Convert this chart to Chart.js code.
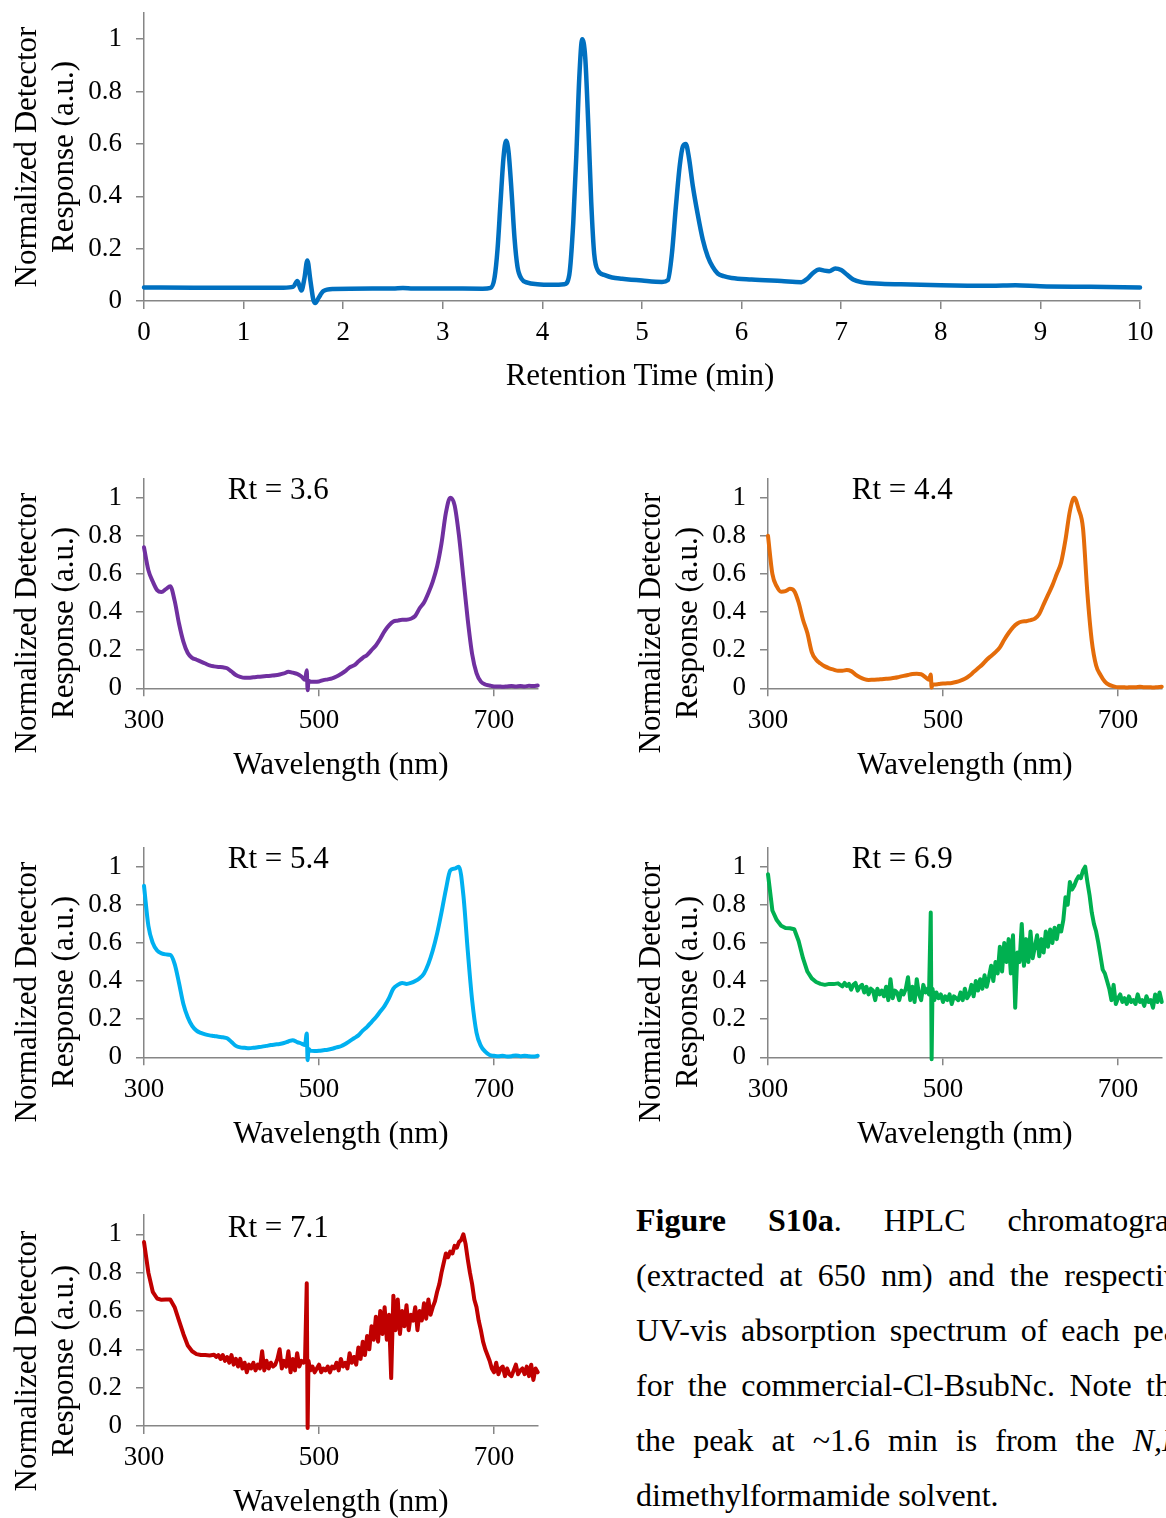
<!DOCTYPE html>
<html>
<head>
<meta charset="utf-8">
<script src="https://cdn.jsdelivr.net/npm/chart.js@4.4.0/dist/chart.umd.min.js"></script>
<style>
  html, body { margin: 0; padding: 0; background: #fff; overflow: hidden; }
  #page { position: relative; width: 1166px; height: 1518px; overflow: hidden;
          font-family: 'Liberation Serif', 'Times New Roman', serif; color: #000; }
  #page canvas { position: absolute; }
  .lbl { position: absolute; white-space: nowrap; font-size: 31px; line-height: 1;
         transform: translate(-50%, -50%); }
  .rot { transform: translate(-50%, -50%) rotate(-90deg); }
  .cap { position: absolute; left: 636px; width: 558px; font-size: 32px; line-height: 55px;
         height: 55px; text-align: justify; text-align-last: justify; white-space: normal; }
  .cap.last { text-align-last: left; }
</style>
</head>
<body>
<div id="page">
  <div class="cap" style="top:1193px"><b>Figure S10a</b>. HPLC chromatogram</div>
  <div class="cap" style="top:1248px">(extracted at 650 nm) and the respective</div>
  <div class="cap" style="top:1303px">UV-vis absorption spectrum of each peak</div>
  <div class="cap" style="top:1358px">for the commercial-Cl-BsubNc. Note that</div>
  <div class="cap" style="top:1413px">the peak at ~1.6 min is from the <i>N,N</i>-</div>
  <div class="cap last" style="top:1468px">dimethylformamide solvent.</div>
</div>
<script>
// HPLC chromatogram (extracted at 650 nm)
const retentionTime = [0, 0.5, 1.0, 1.4, 1.5, 1.54, 1.58, 1.61, 1.64, 1.67, 1.70, 1.72, 1.75, 1.8, 1.9,
  2.5, 2.6, 2.7, 3.0, 3.4, 3.48, 3.52, 3.55, 3.58, 3.61, 3.635, 3.66, 3.69, 3.72, 3.75, 3.79, 3.85,
  3.95, 4.1, 4.22, 4.27, 4.31, 4.34, 4.37, 4.40, 4.43, 4.46, 4.49, 4.52, 4.56, 4.62, 4.7, 4.8, 5.0,
  5.2, 5.26, 5.30, 5.34, 5.38, 5.41, 5.44, 5.47, 5.51, 5.56, 5.61, 5.66, 5.71, 5.76, 5.82, 5.9, 6.1,
  6.4, 6.6, 6.66, 6.72, 6.78, 6.83, 6.88, 6.94, 7.0, 7.06, 7.12, 7.2, 7.4, 7.7, 8.0, 8.5, 8.75, 9.0,
  9.5, 10.0];
const detectorResponse = [0.052, 0.051, 0.051, 0.051, 0.055, 0.076, 0.040, 0.085, 0.155, 0.080, 0.005, -0.008, 0.010, 0.038, 0.046,
  0.048, 0.050, 0.048, 0.048, 0.047, 0.05, 0.09, 0.20, 0.38, 0.55, 0.612, 0.57, 0.42, 0.24, 0.13, 0.085, 0.07,
  0.064, 0.062, 0.064, 0.10, 0.30, 0.55, 0.85, 1.0, 0.93, 0.68, 0.38, 0.18, 0.115, 0.10, 0.09, 0.085, 0.078,
  0.073, 0.08, 0.18, 0.36, 0.52, 0.59, 0.60, 0.55, 0.44, 0.33, 0.235, 0.17, 0.13, 0.105, 0.095, 0.088, 0.082,
  0.076, 0.072, 0.085, 0.108, 0.12, 0.116, 0.114, 0.124, 0.118, 0.10, 0.082, 0.072, 0.066, 0.063, 0.06, 0.058, 0.06, 0.056,
  0.054, 0.052];
const timeTicks = [0, 1, 2, 3, 4, 5, 6, 7, 8, 9, 10];

// UV-vis spectra of the clean peaks (nm)
const wavelength = [300, 305, 310, 315, 320, 325, 330, 335, 340, 345,
  350, 355, 360, 365, 370, 375, 380, 385, 390, 395,
  400, 405, 410, 415, 420, 425, 430, 435, 440, 445,
  450, 455, 460, 465, 470, 475, 480, 484, 486, 487,
  488, 490, 495, 500, 505, 510, 515, 520, 525, 530,
  535, 540, 545, 550, 555, 560, 565, 570, 575, 580,
  585, 590, 595, 600, 605, 610, 615, 620, 625, 630,
  635, 640, 645, 650, 655, 660, 665, 670, 675, 680,
  685, 690, 695, 700, 705, 710, 715, 720, 725, 730,
  735, 740, 745, 750];
const absRt36 = [0.74, 0.62, 0.56, 0.515, 0.505, 0.52, 0.535, 0.46, 0.34, 0.245,
  0.185, 0.16, 0.15, 0.14, 0.13, 0.12, 0.115, 0.112, 0.11, 0.105,
  0.088, 0.07, 0.06, 0.055, 0.055, 0.058, 0.06, 0.062, 0.064, 0.066,
  0.068, 0.072, 0.078, 0.087, 0.082, 0.076, 0.062, 0.045, 0.095, -0.01,
  0.04, 0.035, 0.034, 0.036, 0.043, 0.047, 0.052, 0.062, 0.075, 0.09,
  0.11, 0.12, 0.14, 0.16, 0.175, 0.2, 0.225, 0.26, 0.30, 0.33,
  0.35, 0.355, 0.36, 0.36, 0.365, 0.38, 0.42, 0.45, 0.50, 0.56,
  0.64, 0.76, 0.92, 1.0, 0.96, 0.80, 0.58, 0.36, 0.18, 0.08,
  0.035, 0.02, 0.015, 0.01, 0.01, 0.008, 0.01, 0.012, 0.01, 0.012,
  0.01, 0.013, 0.012, 0.015];
const absRt44 = [0.80, 0.60, 0.535, 0.507, 0.51, 0.522, 0.51, 0.45, 0.36, 0.29,
  0.19, 0.15, 0.13, 0.115, 0.105, 0.098, 0.092, 0.092, 0.096, 0.09,
  0.072, 0.058, 0.048, 0.044, 0.045, 0.046, 0.048, 0.05, 0.052, 0.055,
  0.06, 0.065, 0.07, 0.075, 0.076, 0.074, 0.058, 0.045, 0.072, 0.004,
  0.02, 0.02, 0.022, 0.025, 0.026, 0.028, 0.033, 0.04, 0.05, 0.065,
  0.085, 0.105, 0.125, 0.15, 0.17, 0.19, 0.215, 0.255, 0.29, 0.32,
  0.34, 0.35, 0.352, 0.358, 0.365, 0.39, 0.44, 0.49, 0.54, 0.60,
  0.66, 0.78, 0.93, 1.0, 0.94, 0.84, 0.50, 0.25, 0.12, 0.07,
  0.035, 0.018, 0.01, 0.005, 0.006, 0.004, 0.006, 0.005, 0.008, 0.006,
  0.006, 0.004, 0.006, 0.008];
const absRt54 = [0.90, 0.69, 0.60, 0.56, 0.545, 0.54, 0.537, 0.49, 0.39, 0.28,
  0.21, 0.165, 0.14, 0.128, 0.12, 0.115, 0.112, 0.108, 0.105, 0.1,
  0.08, 0.06, 0.052, 0.05, 0.048, 0.05, 0.053, 0.056, 0.06, 0.064,
  0.067, 0.07, 0.075, 0.083, 0.09, 0.08, 0.072, 0.065, 0.125, -0.015,
  0.045, 0.035, 0.033, 0.034, 0.037, 0.04, 0.045, 0.052, 0.058, 0.07,
  0.085, 0.1, 0.115, 0.14, 0.16, 0.185, 0.21, 0.24, 0.27, 0.31,
  0.36, 0.38, 0.39, 0.385, 0.39, 0.40, 0.415, 0.44, 0.49, 0.56,
  0.65, 0.76, 0.88, 0.98, 0.99, 1.0, 0.85, 0.56, 0.30, 0.13,
  0.06, 0.03, 0.012, 0.008, 0.005, 0.008, 0.004, 0.006, 0.01, 0.006,
  0.008, 0.005, 0.004, 0.008];

// the two weak late peaks are noisy, read on a finer wavelength grid
const noisyWavelength = [300, 305, 310, 315, 320, 325, 330, 335, 340, 345,
  350, 355, 360, 365, 370, 375, 380,
  382.5, 385, 387.5, 390, 392.5, 395, 397.5, 400, 402.5, 405,
  407.5, 410, 412.5, 415, 417.5, 420, 422.5, 425, 427.5, 430,
  432.5, 435, 437.5, 440, 442.5, 445, 447.5, 450, 452.5, 455,
  457.5, 460, 462.5, 465, 467.5, 470, 472.5, 475, 477.5, 480,
  482.5, 484, 486, 487, 488,
  490, 492.5, 495, 497.5, 500, 502.5, 505, 507.5, 510, 512.5,
  515, 517.5, 520, 522.5, 525, 527.5, 530, 532.5, 535, 537.5,
  540, 542.5, 545, 547.5, 550, 552.5, 555, 557.5, 560, 562.5,
  565, 567.5, 570, 572.5, 575, 577.5, 580, 582.5, 585, 587.5,
  590, 592.5, 595, 597.5, 600, 602.5, 605, 607.5, 610, 612.5,
  615, 617.5, 620, 622.5, 625, 627.5, 630, 632.5, 635, 637.5,
  640, 642.5, 645, 647.5, 650, 652.5, 655, 657.5, 660, 662.5,
  665, 667.5, 670, 672.5, 675, 677.5, 680, 682.5, 685, 687.5,
  690, 692.5, 695, 697.5, 700, 702.5, 705, 707.5, 710, 712.5,
  715, 717.5, 720, 722.5, 725, 727.5, 730, 732.5, 735, 737.5,
  740, 742.5, 745, 747.5, 750];
const absRt69 = [0.96, 0.77, 0.72, 0.69, 0.678, 0.677, 0.672, 0.61, 0.52, 0.45,
  0.414, 0.395, 0.385, 0.38, 0.385, 0.384, 0.388,
  0.38, 0.372, 0.39, 0.375, 0.385, 0.355, 0.38, 0.39, 0.35, 0.37,
  0.38, 0.34, 0.37, 0.33, 0.36, 0.35, 0.3, 0.36, 0.33, 0.35,
  0.32, 0.37, 0.3, 0.41, 0.31, 0.35, 0.34, 0.3, 0.35, 0.33,
  0.36, 0.42, 0.3, 0.37, 0.29, 0.41, 0.33, 0.3, 0.38, 0.34,
  0.36, 0.33, 0.76, -0.01, 0.36,
  0.3, 0.34, 0.31, 0.33, 0.29, 0.32, 0.3, 0.33, 0.28, 0.32,
  0.31, 0.3, 0.34, 0.3, 0.36, 0.31, 0.33, 0.38, 0.32, 0.4,
  0.35, 0.41, 0.36, 0.43, 0.37, 0.42, 0.48, 0.4, 0.5, 0.44,
  0.58, 0.45, 0.6, 0.5, 0.62, 0.44, 0.64, 0.26, 0.55, 0.5,
  0.7, 0.48, 0.62, 0.5, 0.66, 0.52, 0.58, 0.64, 0.53, 0.62,
  0.55, 0.66, 0.58, 0.67, 0.6, 0.68, 0.62, 0.69, 0.66, 0.72,
  0.84, 0.8, 0.92, 0.88, 0.9, 0.93, 0.95, 0.94, 0.98, 1.0,
  0.92, 0.85, 0.76, 0.7, 0.66, 0.6, 0.53, 0.46, 0.44, 0.4,
  0.36, 0.3, 0.38, 0.28, 0.31, 0.33, 0.29, 0.31, 0.28, 0.32,
  0.29, 0.3, 0.28, 0.33, 0.29, 0.3, 0.27, 0.32, 0.29, 0.3,
  0.26, 0.33, 0.29, 0.34, 0.29];
const absRt71 = [0.96, 0.8, 0.7, 0.665, 0.658, 0.66, 0.66, 0.62, 0.55, 0.48,
  0.42, 0.39, 0.375, 0.37, 0.37, 0.368, 0.372,
  0.36, 0.37, 0.35, 0.37, 0.34, 0.36, 0.33, 0.37, 0.32, 0.35,
  0.31, 0.35, 0.3, 0.33, 0.28, 0.32, 0.3, 0.33, 0.29, 0.32,
  0.3, 0.39, 0.29, 0.34, 0.3, 0.33, 0.31, 0.32, 0.35, 0.4,
  0.3, 0.34, 0.31, 0.39, 0.28, 0.35, 0.29, 0.38, 0.31, 0.34,
  0.33, 0.34, 0.745, -0.01, 0.34,
  0.29, 0.31, 0.28, 0.3, 0.32, 0.28, 0.3, 0.29, 0.31, 0.28,
  0.31, 0.3, 0.33, 0.29, 0.35, 0.31, 0.33, 0.3, 0.38, 0.33,
  0.36, 0.32, 0.41, 0.35, 0.44, 0.37, 0.47, 0.4, 0.52, 0.45,
  0.57, 0.44, 0.6, 0.48, 0.62, 0.45, 0.58, 0.25, 0.68, 0.5,
  0.66, 0.48, 0.6, 0.52, 0.63, 0.5, 0.58, 0.55, 0.62, 0.5,
  0.6, 0.55, 0.64, 0.56, 0.66, 0.58, 0.62, 0.65, 0.7, 0.74,
  0.8, 0.85, 0.9, 0.88, 0.91, 0.9, 0.94, 0.93, 0.96, 0.97,
  1.0, 0.95, 0.87, 0.8, 0.74, 0.66, 0.62, 0.55, 0.5, 0.44,
  0.4, 0.37, 0.34, 0.3, 0.28, 0.33, 0.27, 0.3, 0.31, 0.26,
  0.3, 0.27, 0.26, 0.29, 0.32, 0.27, 0.29, 0.3, 0.27, 0.31,
  0.26, 0.32, 0.24, 0.3, 0.28];
const wavelengthTicks = [300, 500, 700];
const responseTicks = [0, 0.2, 0.4, 0.6, 0.8, 1];

const panelLabels = ['Rt = 3.6', 'Rt = 4.4', 'Rt = 5.4', 'Rt = 6.9', 'Rt = 7.1'];
const panelX = [wavelength, wavelength, wavelength, noisyWavelength, noisyWavelength];
const panelSpectra = [absRt36, absRt44, absRt54, absRt69, absRt71];
const panelColors = ['#7030A0', '#E46C0A', '#00B0F0', '#00B050', '#C00000'];

Chart.defaults.font.family = "'Liberation Serif', 'Times New Roman', serif";
const page = document.getElementById('page');
const axisGrey = '#868686';
const tickFont = { size: 27 };

function addText(text, cx, cy, rotated) {
  const d = document.createElement('div');
  d.className = rotated ? 'lbl rot' : 'lbl';
  d.style.left = cx + 'px';
  d.style.top = cy + 'px';
  d.textContent = text;
  page.appendChild(d);
}

// box = canvas position on the page, area = wanted plot area on the page
function makeChart(box, area, xMin, xMax, xTicks, xs, ys, color, lineWidth, smooth) {
  if (xs.length !== ys.length) console.warn('length mismatch', xs.length, ys.length);
  const canvas = document.createElement('canvas');
  canvas.width = box.w;
  canvas.height = box.h;
  canvas.style.left = box.x + 'px';
  canvas.style.top = box.y + 'px';
  page.insertBefore(canvas, page.firstChild);
  const points = xs.map((x, i) => ({ x: x, y: ys[i] }));
  const grid = { display: true, drawOnChartArea: false, drawTicks: true, tickLength: 8,
                 color: axisGrey, lineWidth: 1.5 };
  const border = { display: true, color: axisGrey, width: 1.5 };
  return new Chart(canvas, {
    type: 'line',
    data: {
      datasets: [{
        data: points,
        borderColor: color,
        borderWidth: lineWidth,
        pointRadius: 0,
        cubicInterpolationMode: smooth ? 'monotone' : 'default',
        tension: 0,
        borderJoinStyle: 'round',
        borderCapStyle: 'round',
        clip: false
      }]
    },
    options: {
      responsive: false,
      animation: false,
      layout: { padding: { left: 0, top: area.top - box.y, right: box.x + box.w - area.right, bottom: 0 } },
      plugins: { legend: { display: false }, tooltip: { enabled: false } },
      scales: {
        x: {
          type: 'linear', min: xMin, max: xMax,
          afterBuildTicks: s => { s.ticks = xTicks.map(v => ({ value: v })); },
          afterFit: s => { s.height = box.y + box.h - area.bottom; s.paddingLeft = 0; s.paddingRight = 0; },
          grid: grid, border: border,
          ticks: { font: tickFont, color: '#000', padding: 8, maxRotation: 0, autoSkip: false,
                   callback: v => String(v) }
        },
        y: {
          type: 'linear', min: 0, max: 1.1,
          afterBuildTicks: s => { s.ticks = responseTicks.map(v => ({ value: v })); },
          afterFit: s => { s.width = area.left - box.x; s.paddingTop = 0; s.paddingBottom = 0; },
          grid: grid, border: border,
          ticks: { font: tickFont, color: '#000', padding: 14, autoSkip: false,
                   callback: v => String(v) }
        }
      }
    }
  });
}

// top chromatogram
makeChart({ x: 0, y: 0, w: 1166, h: 420 }, { left: 144, right: 1140, top: 13, bottom: 301 },
  0, 10, timeTicks, retentionTime, detectorResponse, '#0070C0', 4.5, true);
addText('Normalized Detector', 25, 157, true);
addText('Response (a.u.)', 62, 157, true);
addText('Retention Time (min)', 640, 374, false);

// spectra panels, two columns
const rowZero = [688.3, 1057.3, 1426];
const rowOne = [497.7, 866.7, 1234.3];
const colAxis = [144, 768];
panelLabels.forEach((label, i) => {
  const row = Math.floor(i / 2), col = i % 2;
  const y0 = rowZero[row], unit = rowZero[row] - rowOne[row];
  const left = colAxis[col];
  const area = { left: left, right: left + 450 * 0.875, top: y0 - 1.1 * unit, bottom: y0 };
  const box = { x: col === 0 ? 0 : 624, y: Math.round(area.top) - 12, w: col === 0 ? 560 : 542, h: 0 };
  box.h = Math.round(y0 + 100) - box.y;
  const smooth = panelX[i] === wavelength;
  makeChart(box, area, 300, 750, wavelengthTicks, panelX[i], panelSpectra[i], panelColors[i], 4, smooth);
  addText('Normalized Detector', left - 119, y0 - 65.3, true);
  addText('Response (a.u.)', left - 82, y0 - 65.3, true);
  addText('Wavelength (nm)', left + 197, y0 + 74.2, false);
  addText(label, left + 134.3, y0 - 200, false);
});
</script>
</body>
</html>
